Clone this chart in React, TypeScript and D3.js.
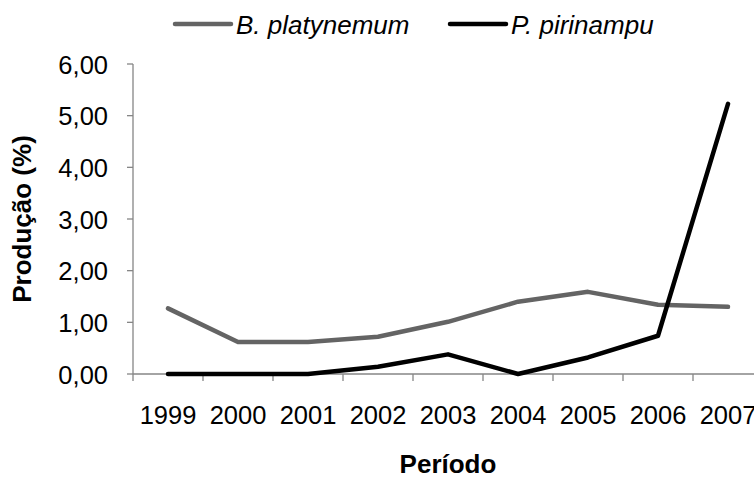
import React from "react";
import * as d3 from "d3";

const years = ["1999", "2000", "2001", "2002", "2003", "2004", "2005", "2006", "2007"];
const platynemum = [1.27, 0.62, 0.62, 0.72, 1.01, 1.4, 1.59, 1.34, 1.3];
const pirinampu = [0, 0, 0, 0.14, 0.38, 0, 0.32, 0.74, 5.23];
const yTicks = [0, 1, 2, 3, 4, 5, 6];
const seriesNames = ["B. platynemum", "P. pirinampu"];
const seriesColors = ["#646464", "#000000"];

const W = 754;
const H = 477;
const left = 133;
const right = 763;
const top = 64;
const bottom = 374;

export default function App() {
  const x = d3.scaleBand<string>().domain(years).range([left, right]).padding(0);
  const y = d3.scaleLinear().domain([0, 6]).range([bottom, top]);
  const line = d3
    .line<number>()
    .x((_, i) => (x(years[i]) as number) + x.bandwidth() / 2)
    .y((d) => y(d));
  const series = [platynemum, pirinampu];
  const fmt = (v: number) => v.toFixed(2).replace(".", ",");
  const font = "Arial, 'Liberation Sans', sans-serif";
  const axisColor = "#868686";
  const boundaries = years.map((_, i) => left + i * x.bandwidth()).concat([right]);
  const legendX = [175, 450];

  return (
    <svg
      width={W}
      height={H}
      style={{ position: "absolute", left: 0, top: 0, background: "#fff" }}
      fontFamily={font}
    >
      {/* y axis */}
      <line x1={left} x2={left} y1={top} y2={bottom} stroke={axisColor} strokeWidth={1.3} />
      {yTicks.map((t) => (
        <g key={t}>
          <line x1={left - 6} x2={left} y1={y(t)} y2={y(t)} stroke={axisColor} strokeWidth={1.3} />
          <text x={108} y={y(t) + 9.5} textAnchor="end" fontSize={25.5} fill="#000">
            {fmt(t)}
          </text>
        </g>
      ))}
      {/* x axis */}
      <line x1={left} x2={right} y1={bottom} y2={bottom} stroke={axisColor} strokeWidth={1.3} />
      {boundaries.map((b, i) => (
        <line key={i} x1={b} x2={b} y1={bottom} y2={bottom + 7} stroke={axisColor} strokeWidth={1.3} />
      ))}
      {years.map((yr) => (
        <text
          key={yr}
          x={(x(yr) as number) + x.bandwidth() / 2}
          y={424}
          textAnchor="middle"
          fontSize={25.5}
          fill="#000"
        >
          {yr}
        </text>
      ))}
      {/* series */}
      {series.map((s, i) => (
        <path
          key={i}
          d={line(s) as string}
          fill="none"
          stroke={seriesColors[i]}
          strokeWidth={4.5}
          strokeLinejoin="round"
          strokeLinecap="round"
        />
      ))}
      {/* axis titles */}
      <text x={(left + right) / 2} y={473} textAnchor="middle" fontSize={26} fontWeight="bold" fill="#000">
        Período
      </text>
      <text
        transform={`translate(31, ${(top + bottom) / 2}) rotate(-90)`}
        textAnchor="middle"
        fontSize={26}
        fontWeight="bold"
        fill="#000"
      >
        Produção (%)
      </text>
      {/* legend */}
      {seriesNames.map((n, i) => (
        <g key={n}>
          <line
            x1={legendX[i]}
            x2={legendX[i] + 56}
            y1={24}
            y2={24}
            stroke={seriesColors[i]}
            strokeWidth={4.5}
            strokeLinecap="round"
          />
          <text x={legendX[i] + 61} y={34} fontSize={26} fontStyle="italic" fill="#000">
            {n}
          </text>
        </g>
      ))}
    </svg>
  );
}
